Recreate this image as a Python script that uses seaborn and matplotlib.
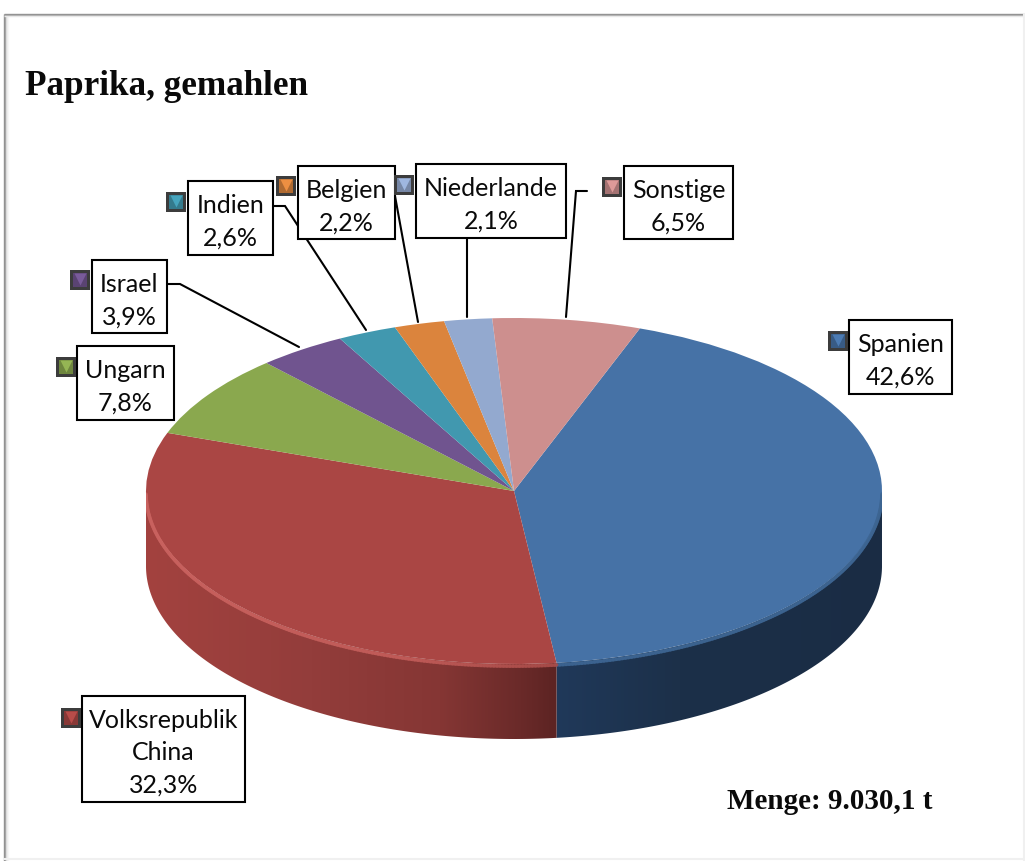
import matplotlib
matplotlib.use('Agg')
import matplotlib.pyplot as plt
import matplotlib.colors as mcolors
from matplotlib.collections import LineCollection
from matplotlib.patches import Polygon
import numpy as np
import seaborn as sns

countries = ['Spanien', 'Volksrepublik\nChina', 'Ungarn', 'Israel', 'Indien', 'Belgien', 'Niederlande', 'Sonstige']
shares = [42.6, 32.3, 7.8, 3.9, 2.6, 2.2, 2.1, 6.5]
slice_colors = ['#4672a6', '#aa4644', '#8aa84e', '#70548f', '#4198af', '#db843d', '#93a9cf', '#cd8f8e']
title = 'Paprika, gemahlen'
total_label = 'Menge: 9.030,1 t'

W, H = 1025, 862
# pie placement in pixels
PIE_LEFT, PIE_RIGHT, PIE_TOP, PIE_BOTTOM, PIE_DEPTH = 146, 882, 319, 665, 75
START_ANGLE = 70

# label box x0, x1, y0, y1 and legend key centre, in pixels
boxes = [(849, 952, 321, 395), (82, 245, 697, 803), (77, 174, 347, 421), (92, 167, 261, 334),
         (188, 273, 182, 256), (298, 395, 167, 240), (416, 566, 165, 239), (624, 733, 167, 240)]
keys = [(838, 342), (71, 719), (66, 368), (80, 281), (176, 203), (286, 187), (404, 186), (612, 188)]
leaders = [
    [(167, 285), (180, 285), (299, 348)],
    [(273, 207), (285, 207), (366, 331)],
    [(395, 197), (418, 323)],
    [(467, 239), (467, 318)],
    [(587, 192), (576, 192), (566, 318)],
]

sns.set_theme(style='white')
palette = sns.color_palette(slice_colors)

fig = plt.figure(figsize=(W / 100, H / 100), dpi=100, facecolor='white')

# pie axes: one unit of x/y is one radius of the squashed ellipse
ry = (PIE_BOTTOM - PIE_TOP) / 2
depth = PIE_DEPTH / ry
ax_pie = fig.add_axes([PIE_LEFT / W, 1 - (PIE_BOTTOM + PIE_DEPTH) / H,
                       (PIE_RIGHT - PIE_LEFT) / W, (PIE_BOTTOM + PIE_DEPTH - PIE_TOP) / H])

ax_pie.pie(shares, colors=palette, startangle=START_ANGLE, counterclock=False, radius=1,
           wedgeprops={'linewidth': 0, 'zorder': 3})

# side wall, built from the same slice angles
wall_stops = {
    0: [(-1.0, '#1f3552'), (0.11, '#20395a'), (0.45, '#1c3049'), (1.0, '#1a2c44')],
    1: [(-1.0, '#a3423f'), (-0.55, '#933d3b'), (-0.2, '#853634'), (0.02, '#6a2a29'), (0.11, '#5d2423')],
}
rim_stops = {
    0: [(-1.0, '#3d6592'), (1.0, '#3d6592')],
    1: [(-1.0, '#c9625f'), (-0.3, '#c25c59'), (0.11, '#a94c49')],
}
edges = START_ANGLE - np.cumsum([0] + shares) / sum(shares) * 360
grid_x = np.linspace(-1, 1, 800)
for i in range(2):
    a1, a0 = edges[i], edges[i + 1]
    angles = np.radians(np.append(np.arange(a0, a1, 0.5), a1))
    angles = angles[np.sin(angles) <= 0.001]
    xs, ys = np.cos(angles), np.sin(angles)
    outline = np.column_stack([np.r_[xs, xs[::-1]], np.r_[ys, ys[::-1] - depth]])
    stop_x = [s[0] for s in wall_stops[i]]
    stop_rgb = np.array([mcolors.to_rgb(s[1]) for s in wall_stops[i]])
    strip = np.stack([np.interp(grid_x, stop_x, stop_rgb[:, k]) for k in range(3)], axis=-1)[None, :, :]
    img = ax_pie.imshow(strip, extent=(-1, 1, -1 - depth, 0.05), aspect='auto', zorder=2, interpolation='bilinear')
    clip = Polygon(outline, closed=True, transform=ax_pie.transData)
    img.set_clip_path(clip)

    # rim highlight, fades towards the front
    pts = np.column_stack([xs, ys - 0.012])
    segs = np.stack([pts[:-1], pts[1:]], axis=1)
    rim_x = [s[0] for s in rim_stops[i]]
    rim_rgb = np.array([mcolors.to_rgb(s[1]) for s in rim_stops[i]])
    mids = (xs[:-1] + xs[1:]) / 2
    seg_cols = np.stack([np.interp(mids, rim_x, rim_rgb[:, k]) for k in range(3)], axis=-1)
    ax_pie.add_collection(LineCollection(segs, colors=seg_cols, linewidths=2.6, alpha=0.8, zorder=4, capstyle='round'))

ax_pie.set_aspect('auto')
ax_pie.set_xlim(-1, 1)
ax_pie.set_ylim(-1 - depth, 1)
ax_pie.axis('off')

# overlay axes in image pixels
ax = fig.add_axes([0, 0, 1, 1], facecolor='none')
ax.set_xlim(0, W)
ax.set_ylim(H, 0)
ax.axis('off')

# frame with soft inner shadow
for off, shade in enumerate(['#8f8f8f', '#9a9a9a', '#d8d8d8', '#ececec', '#f6f6f6']):
    ax.plot([4 + off, 4 + off], [15, H], color=shade, lw=1, solid_capstyle='butt')
for off, shade in enumerate(['#8f8f8f', '#a8a8a8', '#e8e8e8']):
    ax.plot([4, W], [15 + off, 15 + off], color=shade, lw=1, solid_capstyle='butt')
ax.plot([W - 1.5, W - 1.5], [15, H], color='#f0f0f0', lw=1.5)
ax.plot([4, W], [H - 1.5, H - 1.5], color='#f0f0f0', lw=1.5)

ax.text(25, 95, title, family='Liberation Serif', weight='bold', fontsize=25.3, color='#0a0a0a', ha='left', va='baseline')
ax.text(727, 809, total_label, family='Liberation Serif', weight='bold', fontsize=21, color='#0a0a0a', ha='left', va='baseline')

for line in leaders:
    ax.plot([p[0] for p in line], [p[1] for p in line], color='black', lw=1.5, solid_joinstyle='miter', zorder=3)

for name, share, color, box, key in zip(countries, shares, palette, boxes, keys):
    x0, x1, y0, y1 = box
    ax.fill([x0, x1, x1, x0], [y0, y0, y1, y1], facecolor='white', edgecolor='black', lw=1.5, zorder=4)
    label = name + '\n' + f'{share:.1f}%'.replace('.', ',')
    ax.text((x0 + x1) / 2, (y0 + y1) / 2 + 3, label, family='Lato', fontsize=18, color='#0a0a0a',
            ha='center', va='center', linespacing=1.5, zorder=5)

    # legend key, small bevelled square
    dark = tuple(c * 0.8 for c in color)
    light = tuple(min(1, c * 1.08) for c in color)
    ax.scatter(key[0], key[1], marker='s', s=190, color='#3c3c3c', linewidths=0, zorder=5)
    ax.scatter(key[0], key[1], marker='s', s=110, color=dark, linewidths=0, zorder=6)
    ax.scatter(key[0], key[1] - 1.5, marker='v', s=75, color=light, linewidths=0, zorder=7)

fig.savefig('out.png', dpi=100)
